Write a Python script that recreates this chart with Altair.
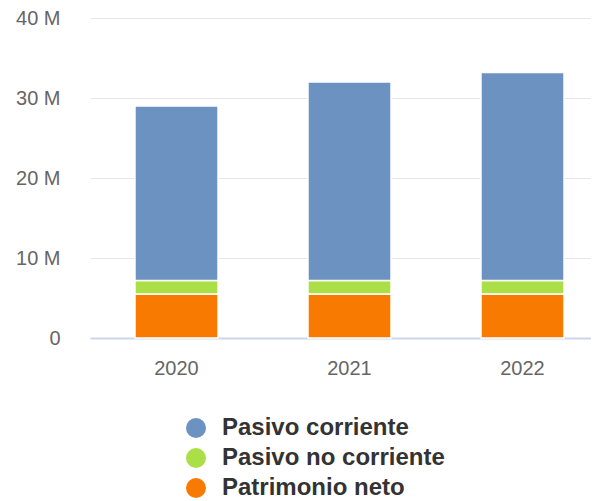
import altair as alt
import pandas as pd

years = ["2020", "2021", "2022"]
series = ["Pasivo corriente", "Pasivo no corriente", "Patrimonio neto"]
pasivo_corriente = [21.8, 24.8, 26.0]
pasivo_no_corriente = [1.7, 1.7, 1.7]
patrimonio_neto = [5.5, 5.5, 5.5]
colors = ["#6b92c1", "#abdf48", "#f97a00"]
y_ticks = [0, 10, 20, 30, 40]

rows = []
for i, yr in enumerate(years):
    rows.append({"year": yr, "serie": "Patrimonio neto", "value": patrimonio_neto[i], "ord": 0})
    rows.append({"year": yr, "serie": "Pasivo no corriente", "value": pasivo_no_corriente[i], "ord": 1})
    rows.append({"year": yr, "serie": "Pasivo corriente", "value": pasivo_corriente[i], "ord": 2})
df = pd.DataFrame(rows)

FONT = "Liberation Sans"

chart = alt.Chart(df).mark_bar(stroke="white", strokeWidth=1.5).encode(
    x=alt.X(
        "year:N",
        sort=years,
        scale=alt.Scale(range=[0, 519], paddingInner=0.52, paddingOuter=0.26),
        axis=alt.Axis(
            title=None, labelAngle=0, ticks=False, grid=False,
            domainColor="#ccd6eb", domainWidth=2,
            labelFontSize=20, labelColor="#666666", labelPadding=20, labelFont=FONT,
        ),
    ),
    y=alt.Y(
        "value:Q",
        stack="zero",
        scale=alt.Scale(domain=[0, 40], nice=False),
        axis=alt.Axis(
            title=None, values=y_ticks,
            labelExpr="datum.value == 0 ? '0' : datum.value + ' M'",
            ticks=False, domain=False, gridColor="#e6e6e6", gridWidth=1,
            labelFontSize=20, labelColor="#666666", labelPadding=30, labelFont=FONT,
        ),
    ),
    color=alt.Color(
        "serie:N",
        scale=alt.Scale(domain=series, range=colors),
        legend=alt.Legend(
            title=None, orient="none", legendX=94, legendY=398,
            direction="vertical", symbolType="circle", symbolSize=400,
            symbolStrokeWidth=0, symbolOpacity=1,
            labelFontSize=24, labelFontWeight="bold", labelColor="#333333",
            labelFont=FONT, rowPadding=6, labelOffset=14, labelLimit=400,
        ),
    ),
    order=alt.Order("ord:Q"),
).properties(
    width=501,
    height=320,
    autosize=alt.AutoSizeParams(type="none"),
    padding={"left": 82, "top": 10, "right": 0, "bottom": 163},
).configure_view(stroke=None)

chart.save("out.html", embed_options={"renderer": "svg", "actions": False})
